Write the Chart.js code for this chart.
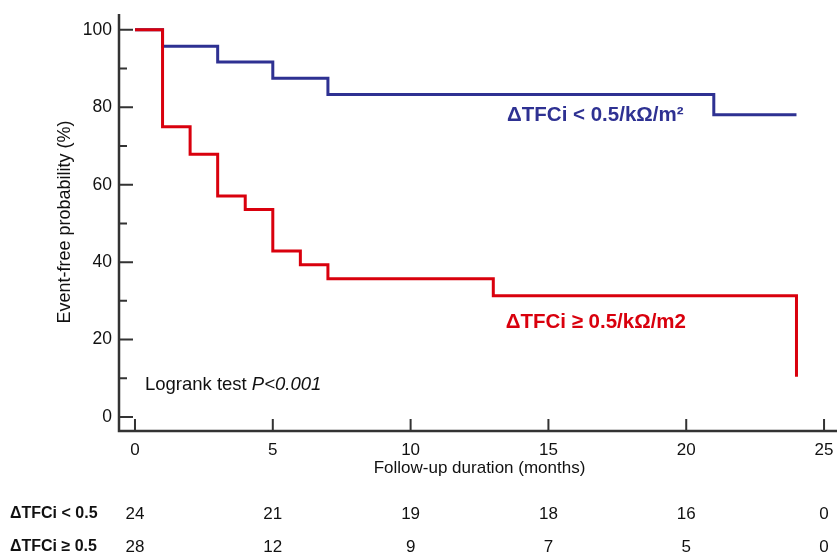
<!DOCTYPE html>
<html>
<head>
<meta charset="utf-8">
<script src="https://cdn.jsdelivr.net/npm/chart.js@4"></script>
<style>
  html, body { margin: 0; padding: 0; background: #fff; }
  #wrap { width: 837px; height: 555px; position: relative; }
</style>
</head>
<body>
<div id="wrap"><canvas id="km"></canvas></div>
<script>
// Kaplan-Meier steps (time in months, event-free %)
const lowTimes = [0, 1, 3, 5, 7, 21, 24];
const lowSurv = [100, 95.8, 91.7, 87.5, 83.3, 78.1, 78.1];
const highTimes = [0, 1, 2, 3, 4, 5, 6, 7, 13, 24];
const highSurv = [100, 75, 67.9, 57.1, 53.6, 42.9, 39.3, 35.7, 31.3, 10.4];

const xTicks = [0, 5, 10, 15, 20, 25];
const yTicks = [0, 20, 40, 60, 80, 100];
const yMinor = [10, 30, 50, 70, 90];

const riskLabels = ["ΔTFCi < 0.5", "ΔTFCi ≥ 0.5"];
const riskLow = [24, 21, 19, 18, 16, 0];
const riskHigh = [28, 12, 9, 7, 5, 0];

const BLUE = "#2e3192";
const RED = "#d9000d";
const AXIS = "#333333";
const FONT = "'Liberation Sans', Arial, sans-serif";

const toPoints = (xs, ys) => xs.map((x, i) => ({ x: x, y: ys[i] }));

const kmPlugin = {
    id: "kmExtras",
    afterDraw(chart) {
        const ctx = chart.ctx;
        const xs = chart.scales.x;
        const ys = chart.scales.y;
        const area = chart.chartArea;
        ctx.save();

        // axis lines
        ctx.strokeStyle = AXIS;
        ctx.lineWidth = 2.5;
        ctx.beginPath();
        ctx.moveTo(area.left, area.top);
        ctx.lineTo(area.left, area.bottom);
        ctx.lineTo(area.right, area.bottom);
        ctx.stroke();

        // inward ticks
        ctx.lineWidth = 2;
        ctx.beginPath();
        yTicks.forEach(v => {
            const py = ys.getPixelForValue(v);
            ctx.moveTo(area.left, py);
            ctx.lineTo(area.left + 14, py);
        });
        yMinor.forEach(v => {
            const py = ys.getPixelForValue(v);
            ctx.moveTo(area.left, py);
            ctx.lineTo(area.left + 8, py);
        });
        xTicks.forEach(v => {
            const px = xs.getPixelForValue(v);
            ctx.moveTo(px, area.bottom);
            ctx.lineTo(px, area.bottom - 12);
        });
        ctx.stroke();

        // axis titles
        ctx.fillStyle = "#111";
        ctx.font = "17px " + FONT;
        ctx.textAlign = "center";
        ctx.textBaseline = "middle";
        ctx.fillText("Follow-up duration (months)", (xs.getPixelForValue(0) + xs.getPixelForValue(25)) / 2, 468);
        ctx.save();
        ctx.font = "18px " + FONT;
        ctx.translate(65, 222);
        ctx.rotate(-Math.PI / 2);
        ctx.fillText("Event-free probability (%)", 0, 0);
        ctx.restore();

        // curve labels
        ctx.font = "bold 20.5px " + FONT;
        ctx.textAlign = "left";
        ctx.fillStyle = BLUE;
        ctx.fillText("ΔTFCi < 0.5/kΩ/m²", xs.getPixelForValue(13.5), ys.getPixelForValue(78));
        ctx.fillStyle = RED;
        ctx.fillText("ΔTFCi ≥ 0.5/kΩ/m2", xs.getPixelForValue(13.45), ys.getPixelForValue(24.5));

        // logrank note
        ctx.fillStyle = "#111";
        ctx.font = "18.5px " + FONT;
        const lx = xs.getPixelForValue(0.36);
        const ly = ys.getPixelForValue(8.3);
        const pre = "Logrank test ";
        ctx.fillText(pre, lx, ly);
        const w = ctx.measureText(pre).width;
        ctx.font = "italic 18.5px " + FONT;
        ctx.fillText("P<0.001", lx + w, ly);

        // numbers at risk
        const rows = [riskLow, riskHigh];
        const rowY = [514, 547];
        rows.forEach((row, r) => {
            ctx.fillStyle = "#111";
            ctx.textAlign = "left";
            ctx.font = "bold 16px 'Liberation Sans Narrow', " + FONT;
            ctx.fillText(riskLabels[r], 10, rowY[r]);
            ctx.textAlign = "center";
            ctx.font = "17px 'Liberation Sans Narrow', " + FONT;
            row.forEach((n, i) => {
                ctx.fillText(String(n), xs.getPixelForValue(xTicks[i]), rowY[r]);
            });
        });

        ctx.restore();
    }
};

new Chart(document.getElementById("km"), {
    type: "line",
    data: {
        datasets: [
            {
                label: "ΔTFCi ≥ 0.5",
                data: toPoints(highTimes, highSurv),
                borderColor: RED,
                borderWidth: 3,
                stepped: true,
                pointRadius: 0,
                fill: false
            },
            {
                label: "ΔTFCi < 0.5",
                data: toPoints(lowTimes, lowSurv),
                borderColor: BLUE,
                borderWidth: 3,
                stepped: true,
                pointRadius: 0,
                fill: false
            }
        ]
    },
    options: {
        responsive: true,
        maintainAspectRatio: false,
        animation: false,
        layout: { padding: { top: 14, right: 0, left: 0, bottom: 0 } },
        plugins: {
            legend: { display: false },
            tooltip: { enabled: false }
        },
        scales: {
            x: {
                type: "linear",
                min: -0.58,
                max: 25.47,
                afterBuildTicks: s => { s.ticks = xTicks.map(v => ({ value: v })); },
                afterFit: s => { s.height = 124; },
                border: { display: false },
                grid: { display: false },
                ticks: {
                    color: "#111",
                    font: { family: FONT, size: 17 },
                    padding: 1,
                    maxRotation: 0
                },
                title: { display: false }
            },
            y: {
                min: -3.62,
                max: 104.1,
                afterBuildTicks: s => { s.ticks = yTicks.map(v => ({ value: v })); },
                afterFit: s => { s.width = 119; },
                border: { display: false },
                grid: { display: false },
                ticks: {
                    color: "#111",
                    font: { family: FONT, size: 17.5 },
                    padding: -1
                },
                title: { display: false }
            }
        }
    },
    plugins: [kmPlugin]
});
</script>
</body>
</html>
